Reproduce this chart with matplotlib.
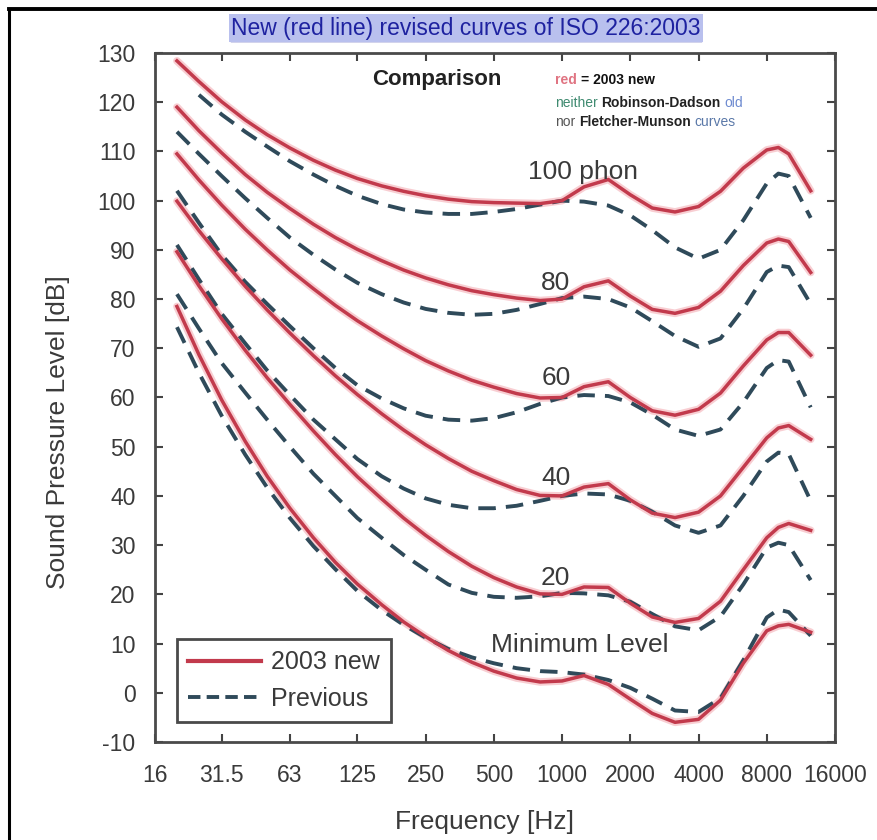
import numpy as np
import matplotlib
matplotlib.use("Agg")
import matplotlib.pyplot as plt
from matplotlib.lines import Line2D

# Frequencies (Hz) used by all contours
freqs = [20, 25, 31.5, 40, 50, 63, 80, 100, 125, 160, 200, 250, 315, 400, 500,
         630, 800, 1000, 1250, 1600, 2000, 2500, 3150, 4000, 5000, 6300, 8000,
         9000, 10000, 12500]

# New contours (ISO 226:2003), dB SPL
new_100 = [128.4, 124.2, 120.1, 116.4, 113.4, 110.7, 108.2, 106.2, 104.5, 103.0,
           101.9, 101.0, 100.3, 99.8, 99.6, 99.5, 99.4, 100.0, 102.8, 104.3,
           101.2, 98.5, 97.7, 98.8, 101.9, 106.6, 110.3, 110.8, 109.5, 102.0]
new_80 = [119.0, 114.2, 109.7, 105.3, 101.7, 98.4, 95.2, 92.5, 90.1, 87.8, 85.9,
          84.3, 82.9, 81.7, 80.9, 80.2, 79.7, 80.0, 82.5, 83.7, 80.6, 77.9, 77.1,
          78.3, 81.6, 86.8, 91.4, 92.2, 91.7, 85.4]
new_60 = [109.5, 104.2, 99.1, 94.2, 90.0, 85.9, 82.1, 78.7, 75.6, 72.5, 69.9,
          67.5, 65.4, 63.5, 62.1, 60.8, 59.9, 60.0, 62.2, 63.2, 60.0, 57.3, 56.4,
          57.6, 60.9, 66.4, 71.7, 73.2, 73.2, 68.6]
new_40 = [99.9, 93.9, 88.2, 82.6, 77.8, 73.1, 68.5, 64.4, 60.6, 56.7, 53.4, 50.4,
          47.6, 45.0, 43.1, 41.3, 40.1, 40.0, 41.8, 42.5, 39.2, 36.5, 35.6, 36.7,
          40.0, 45.8, 51.8, 53.8, 54.3, 51.5]
new_20 = [89.6, 82.7, 76.0, 69.6, 64.0, 58.6, 53.2, 48.4, 43.9, 39.4, 35.5, 32.0,
          28.7, 25.7, 23.4, 21.5, 20.1, 20.0, 21.5, 21.4, 18.2, 15.4, 14.3, 15.1,
          18.6, 25.0, 31.5, 33.6, 34.4, 33.0]
new_min = [78.5, 68.7, 59.5, 51.1, 44.0, 37.5, 31.5, 26.5, 22.1, 17.9, 14.4, 11.4,
           8.6, 6.2, 4.4, 3.0, 2.2, 2.4, 3.5, 1.7, -1.3, -4.2, -6.0, -5.4, -1.5,
           6.0, 12.6, 13.6, 13.9, 12.3]

# Previous contours (Robinson-Dadson), dB SPL
nan = float("nan")
old_100 = [nan, 121.5, 117.5, 114.0, 111.0, 108.0, 105.3, 103.0, 101.0, 99.3,
           98.2, 97.6, 97.3, 97.3, 97.7, 98.3, 99.2, 100.0, 99.8, 99.0, 97.0,
           94.0, 90.5, 88.2, 90.0, 96.0, 103.5, 105.5, 105.0, 96.5]
old_80 = [114.0, 109.5, 105.0, 100.5, 96.5, 92.5, 89.0, 86.0, 83.3, 81.0, 79.3,
          78.0, 77.2, 76.8, 77.0, 77.8, 79.0, 80.2, 80.5, 80.0, 78.3, 75.5, 72.5,
          70.3, 72.0, 78.0, 85.5, 86.8, 86.5, 79.0]
old_60 = [102.0, 95.5, 89.0, 83.5, 79.0, 74.5, 70.0, 66.0, 62.5, 59.8, 57.8, 56.3,
          55.5, 55.3, 55.8, 57.0, 58.7, 60.0, 60.5, 60.3, 59.0, 56.5, 53.5, 52.2,
          53.5, 59.0, 66.0, 67.6, 67.3, 58.0]
old_40 = [91.0, 84.0, 77.0, 71.0, 65.5, 60.5, 55.5, 51.5, 47.5, 44.0, 41.5, 39.5,
          38.2, 37.5, 37.5, 38.0, 39.0, 40.0, 40.5, 40.3, 39.0, 36.8, 34.0, 32.5,
          34.0, 40.0, 47.0, 48.8, 48.5, 39.0]
old_20 = [81.0, 74.0, 67.0, 61.0, 55.5, 50.0, 44.5, 40.0, 35.5, 31.5, 28.0, 25.0,
          22.0, 20.3, 19.5, 19.3, 19.6, 20.3, 20.2, 19.8, 18.5, 16.0, 13.5, 12.7,
          15.5, 22.0, 29.5, 30.5, 30.0, 22.9]
old_min = [74.3, 65.0, 56.3, 48.4, 41.7, 35.5, 29.8, 25.1, 20.7, 16.8, 13.8, 11.2,
           8.9, 7.2, 6.0, 5.0, 4.4, 4.2, 3.7, 2.6, 1.0, -1.2, -3.6, -3.9, -1.1,
           6.6, 15.3, 16.9, 16.4, 11.6]

new_curves = [new_100, new_80, new_60, new_40, new_20, new_min]
old_curves = [old_100, old_80, old_60, old_40, old_20, old_min]

x_ticks = [16, 31.5, 63, 125, 250, 500, 1000, 2000, 4000, 8000, 16000]
x_tick_labels = ["16", "31.5", "63", "125", "250", "500", "1000", "2000",
                 "4000", "8000", "16000"]
y_ticks = list(range(-10, 131, 10))

curve_labels = ["100 phon", "80", "60", "40", "20", "Minimum Level"]
label_freqs = [1240, 940, 940, 940, 930, 1200]
label_levels = [105.8, 83.3, 64.0, 43.6, 23.3, 9.7]

RED = "#c23a4c"
DASH = "#2f4a5a"
GRAY_TXT = "#3a3a3a"
ARIAL = ["Liberation Sans", "DejaVu Sans"]

W, H = 878, 840
fig = plt.figure(figsize=(W / 100, H / 100), dpi=100)
ax = fig.add_axes([155 / W, 1 - 742 / H, 680 / W, 689 / H])

for ys in old_curves:
    ax.plot(freqs, ys, color=DASH, lw=2.8, dashes=(4.5, 2.6), zorder=3)
for ys in new_curves:
    ax.plot(freqs, ys, color="#f3a6ae", lw=5.5, alpha=0.55, zorder=2,
            solid_capstyle="round")
    ax.plot(freqs, ys, color=RED, lw=2.5, zorder=4)

ax.set_xscale("log", base=2)
ax.set_xlim(16, 16000)
ax.set_ylim(-10, 130)
ax.set_xticks(x_ticks)
ax.set_xticklabels(x_tick_labels)
ax.xaxis.set_minor_locator(matplotlib.ticker.NullLocator())
ax.set_yticks(y_ticks)
ax.set_yticklabels([str(v) for v in y_ticks])

ax.tick_params(direction="in", length=6, width=1.5, color="#444444",
               top=True, right=True, labelsize=16.5, labelcolor=GRAY_TXT)
ax.tick_params(axis="y", pad=14)
ax.tick_params(axis="x", pad=16)
for lab in ax.get_xticklabels() + ax.get_yticklabels():
    lab.set_family(ARIAL)
for sp in ax.spines.values():
    sp.set_color("#4a4a4a")
    sp.set_linewidth(2.0)

ax.set_xlabel("Frequency [Hz]", fontsize=19, family=ARIAL, color=GRAY_TXT)
ax.set_ylabel("Sound Pressure Level [dB]", fontsize=19, family=ARIAL,
              color=GRAY_TXT)
ax.xaxis.set_label_coords(0.485, -0.098)
ax.yaxis.set_label_coords(-0.125, 0.45)

# Curve labels
for txt, fx, lv in zip(curve_labels, label_freqs, label_levels):
    ax.text(fx, lv, txt, ha="center", va="center", fontsize=19,
            family=ARIAL, color=GRAY_TXT, zorder=5)

# Legend
handles = [Line2D([], [], color=RED, lw=3.0),
           Line2D([], [], color=DASH, lw=2.8, dashes=(3.2, 1.6))]
leg = ax.legend(handles, ["2003 new", "Previous"], loc="lower left",
                bbox_to_anchor=(0.032, 0.029), borderaxespad=0,
                fancybox=False, framealpha=1, edgecolor="#4a4a4a",
                handlelength=2.9, handletextpad=0.4, borderpad=0.45,
                labelspacing=0.5, prop={"family": ARIAL, "size": 18})
leg.get_frame().set_linewidth(2.0)
for t in leg.get_texts():
    t.set_color(GRAY_TXT)

# Header notes inside plot
ax.text(0.415, 0.962, "Comparison", transform=ax.transAxes, ha="center",
        va="center", fontsize=16, fontweight="bold", family=ARIAL,
        color="#222222")

renderer = fig.canvas.get_renderer()


def colored_line(x0, y0, parts):
    x = x0
    for s, c, w in parts:
        t = ax.text(x, y0, s, transform=ax.transAxes, ha="left", va="center",
                    fontsize=10, fontweight=w, family=ARIAL, color=c)
        bb = t.get_window_extent(renderer)
        x = ax.transAxes.inverted().transform((bb.x1 + 4, 0))[0]


colored_line(0.588, 0.961, [("red", "#e07482", "bold"),
                            ("= 2003 new", "#111111", "bold")])
colored_line(0.588, 0.928, [("neither", "#3f8a70", "normal"),
                            ("Robinson-Dadson", "#222222", "bold"),
                            ("old", "#6d8ad0", "normal")])
colored_line(0.588, 0.900, [("nor", "#555555", "normal"),
                            ("Fletcher-Munson", "#222222", "bold"),
                            ("curves", "#5a78a8", "normal")])

# Title, blue underlined on highlight
title = fig.text(466 / W, 1 - 28 / H, "New (red line) revised curves of ISO 226:2003",
                 ha="center", va="center", fontsize=16.5, family=ARIAL,
                 color="#1e22a0",
                 bbox=dict(facecolor="#b9c0ee", edgecolor="none", pad=1.5))
tb = title.get_window_extent(renderer)
fig.add_artist(Line2D([tb.x0 / W, tb.x1 / W], [(tb.y0 - 1) / H, (tb.y0 - 1) / H],
                      transform=fig.transFigure, color="#1e22a0", lw=1.0))

# Black frame (left and top edges)
fig.add_artist(Line2D([9 / W, 9 / W], [0, 1 - 9 / H], transform=fig.transFigure,
                      color="black", lw=2.2))
fig.add_artist(Line2D([9 / W, 1], [1 - 9 / H, 1 - 9 / H],
                      transform=fig.transFigure, color="black", lw=2.8))

fig.savefig("out.png", dpi=100)
